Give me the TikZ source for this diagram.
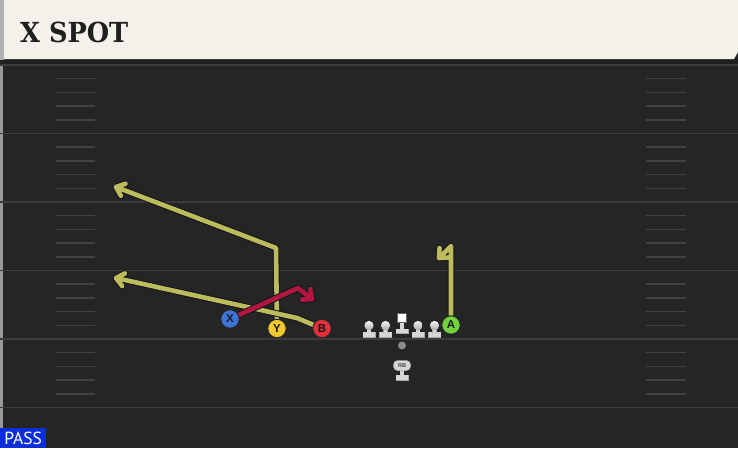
\documentclass[tikz,border=0pt]{standalone}
\usepackage{fontspec}
\newfontfamily\titlefont{DejaVu Serif}
\newfontfamily\passfont{PT Sans}
\newfontfamily\letterfont{Liberation Sans}
\usetikzlibrary{calc}
\definecolor{fieldbg}{HTML}{252525}
\definecolor{yardline}{HTML}{3C3C3C}
\definecolor{hashc}{HTML}{424242}
\definecolor{barcream}{HTML}{F4F1EA}
\definecolor{routeY}{HTML}{BDBC5C}
\definecolor{routeR}{HTML}{B3173F}
\definecolor{routeedge}{HTML}{15151F}
\definecolor{pX}{HTML}{3E74DA}
\definecolor{pY}{HTML}{F4C92E}
\definecolor{pB}{HTML}{E2313C}
\definecolor{pA}{HTML}{72D23E}
\definecolor{passblue}{HTML}{0C2ED6}
\definecolor{lmlight}{HTML}{D6D6D6}
\definecolor{lmdark}{HTML}{A8A8A8}
\pgfdeclarelayer{bg}
\pgfsetlayers{bg,main}
\tikzset{
  yard/.style={draw=yardline, line width=1.6pt},
  hashmark/.style={draw=hashc, line width=1.5pt},
  route/.style={line width=4.6pt, line cap=round, line join=round,
    preaction={draw=routeedge, line width=6.6pt, line cap=round, line join=round}},
  routey/.style={route, draw=routeY},
  router/.style={route, draw=routeR},
  player/.style={circle, minimum size=18.5pt, inner sep=0pt, draw=black!85, line width=1pt,
    font=\letterfont\bfseries\fontsize{11.5}{11.5}\selectfont, text=black!90},
  lineman/.pic={
    \fill[lmdark] (-6.5,6.5) rectangle (6.5,12);
    \fill[lmlight] (-6,6.5) rectangle (6,11);
    \fill[lmdark] (-2.2,0) rectangle (2.2,7);
    \fill[lmlight] (-1.6,0) rectangle (1.6,7);
    \shade[top color=white!80!lmlight, bottom color=lmdark] (0,0) circle (4.6);
  }
}
\begin{document}
\begin{tikzpicture}[x=1pt,y=-1pt]
\useasboundingbox (0,0) rectangle (738,448);
\begin{pgfonlayer}{bg}
\fill[fieldbg] (0,0) rectangle (738,448);
\fill[black!40] (0,60) rectangle (3,448);
\foreach \yy in {65,133.5,202,270.5,339,407.5}
  \draw[yard] (0,\yy) -- (738,\yy);
\foreach \yy in {65,133.5,202,270.5,339} {
  \foreach \k in {1,2,3,4} {
    \draw[hashmark] (56,{\yy+\k*13.7}) -- (95,{\yy+\k*13.7});
    \draw[hashmark] (646,{\yy+\k*13.7}) -- (686,{\yy+\k*13.7});
  }
}
\fill[black!88] (0,58) rectangle (738,64);
\fill[barcream] (4,0) -- (738,0) -- (738,52) -- (734,59) -- (4,59) -- cycle;
\fill[black!30] (0,0) rectangle (4,60);
\end{pgfonlayer}
\node[anchor=base west, inner sep=0pt, text=black!88] (title) at (20,42)
  {\resizebox{108pt}{20.5pt}{\titlefont\bfseries X SPOT}};
% players
\node[player, fill=pX] (X) at (230,319) {X};
\node[player, fill=pY] (Y) at (277,328.5) {Y};
\node[player, fill=pB] (B) at (322,328.5) {B};
\node[player, fill=pA] (A) at (451,325) {A};
% line
\pic (lt) at (369,325.5) {lineman};
\pic (lg) at (385.5,325.5) {lineman};
\pic (rg) at (418,325.5) {lineman};
\pic (rt) at (434.5,325.5) {lineman};
\fill[lmdark] (395.5,328.5) rectangle (408.5,334);
\fill[lmlight] (396,328.5) rectangle (408,333);
\fill[lmdark] (399.8,322) rectangle (404.2,329);
\fill[lmlight] (400.4,322) rectangle (403.6,329);
\node[draw=black!60, line width=0.8pt, fill=white, minimum size=8.5pt, inner sep=0pt] (C) at (402,318) {};
\node[circle, fill=black!45, minimum size=8pt, inner sep=0pt] (ball) at (402,345.5) {};
% RB
\fill[lmdark] (395.5,375) rectangle (408.5,380.5);
\fill[lmlight] (396,375) rectangle (408,379.5);
\fill[lmlight] (400.2,370) rectangle (403.8,376);
\node[rounded corners=4pt, fill=lmlight, draw=lmdark, line width=0.5pt, minimum width=17pt, minimum height=10pt, inner sep=0pt,
  font=\letterfont\bfseries\fontsize{5.5}{5.5}\selectfont, text=black!75] (RB) at (402,365.5) {RB};
% routes
\begin{pgfonlayer}{bg}
\coordinate (ycut) at (276,248);
\coordinate (ytip) at (116,187);
\draw[routey] (Y.center) -- (ycut) -- (ytip) -- ($(ytip)!10pt!40:(ycut)$)
  (ytip) -- ($(ytip)!10pt!-40:(ycut)$);
\coordinate (bcut) at (297,318);
\coordinate (btip) at (116,278);
\draw[routey] (B.center) -- (bcut) -- (btip) -- ($(btip)!10pt!40:(bcut)$)
  (btip) -- ($(btip)!10pt!-40:(bcut)$);
\coordinate (xcut) at (298,288);
\coordinate (xtip) at (312,299);
\draw[router] (X.center) -- (xcut) -- (xtip) -- ($(xtip)!10pt!42:(xcut)$)
  (xtip) -- ($(xtip)!10pt!-42:(xcut)$);
\coordinate (acut) at (451,246);
\coordinate (atip) at (439,258);
\draw[routey] (A.center) -- (acut) -- (atip) -- ($(atip)!10pt!42:(acut)$)
  (atip) -- ($(atip)!10pt!-42:(acut)$);
\end{pgfonlayer}
% pass tag
\node[fill=passblue, anchor=south west, minimum width=46pt, minimum height=19.5pt, inner sep=0pt,
  text=white, font=\passfont\fontsize{17.5}{17.5}\selectfont] (pass) at (0,448) {PASS};
\end{tikzpicture}
\end{document}
